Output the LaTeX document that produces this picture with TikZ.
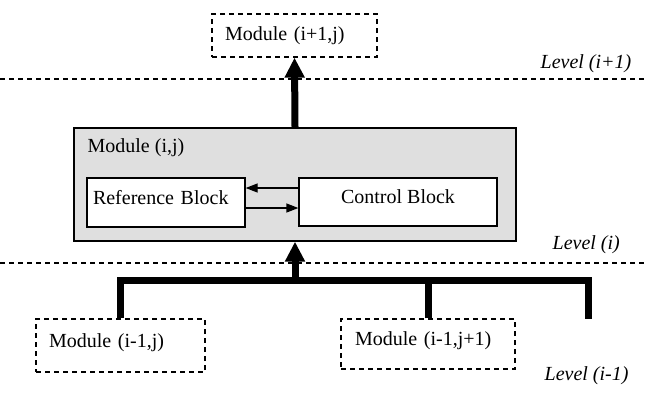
\documentclass[tikz,border=0pt]{standalone}
\usepackage{fontspec}
\setmainfont{Liberation Serif}
\usetikzlibrary{arrows.meta}
\begin{document}
\begin{tikzpicture}[x=0.5pt,y=-0.5pt,line width=0.65pt,
  modulo/.style={draw,dashed,dash pattern=on 2.5pt off 2pt,align=left},
  bloque/.style={draw,fill=white,text height=7pt,text depth=5.5pt},
  bus/.style={line width=3.5pt,line join=miter},
  senal/.style={-{Triangle[length=6pt,width=4.5pt]}},
  nivel/.style={anchor=west,inner sep=0pt,font=\itshape}]
\useasboundingbox (0,0) rectangle (646,392);
% Las lineas de nivel
\coordinate (n1a) at (0,79); \coordinate (n1b) at (646,79);
\coordinate (n2a) at (0,263); \coordinate (n2b) at (646,263);
\draw[dashed,dash pattern=on 2.5pt off 2pt] (n1a) -- (n1b);
\draw[dashed,dash pattern=on 2.5pt off 2pt] (n2a) -- (n2b);
\node[nivel] (lsup) at (540,64) {Level (i+1)};
\node[nivel] (lmed) at (552,245) {Level (i)};
\node[nivel] (linf) at (544,376) {Level (i-1)};
% Modulo de arriba
\node[modulo,minimum height=21.5pt,text width=69.5pt,inner xsep=6.5pt] (msup) at (294.5,35.5) {Module (i+1,j)};
% Modulo (i,j) con sus bloques
\node[draw,fill=gray!25,minimum width=221pt,minimum height=56.5pt] (mij) at (295,184.5) {};
\node[anchor=west,inner sep=0pt] (mijtxt) at (87,148) {Module (i,j)};
\node[bloque,minimum height=24.5pt,text width=73pt,inner xsep=3pt,align=left] (ref) at (166,202.5) {Reference Block};
\node[bloque,minimum width=99pt,minimum height=24pt] (ctrl) at (398,202) {Control Block};
\draw[senal] ([yshift=7pt]ctrl.west) -- ([yshift=7pt]ctrl.west -| ref.east);
\draw[senal] ([yshift=-2.75pt]ref.east) -- ([yshift=-2.75pt]ref.east -| ctrl.west);
% Modulos de abajo
\node[modulo,minimum height=26.5pt,text width=71.5pt,inner xsep=6.5pt,text height=7pt,text depth=5.5pt] (minf1) at (120.5,345.5) {Module (i-1,j)};
\node[modulo,minimum height=25pt,text width=73pt,inner xsep=7pt,text height=7pt,text depth=5.5pt] (minf2) at (428,344) {Module (i-1,j+1)};
% Flechas gruesas
\draw[bus,-{Triangle[length=10pt,width=9.5pt]}] (mij.north) -- (msup.south);
\coordinate (cbus) at (295,280);
\coordinate (cder) at (588,280);
\coordinate (fin) at (588,319);
\draw[bus] (minf1.north) |- (cder) -- (fin);
\draw[bus] (minf2.north) -- (minf2.north |- cbus);
\draw[bus,-{Triangle[length=10pt,width=9.5pt]}] (cbus) -- (mij.south);
\end{tikzpicture}
\end{document}
